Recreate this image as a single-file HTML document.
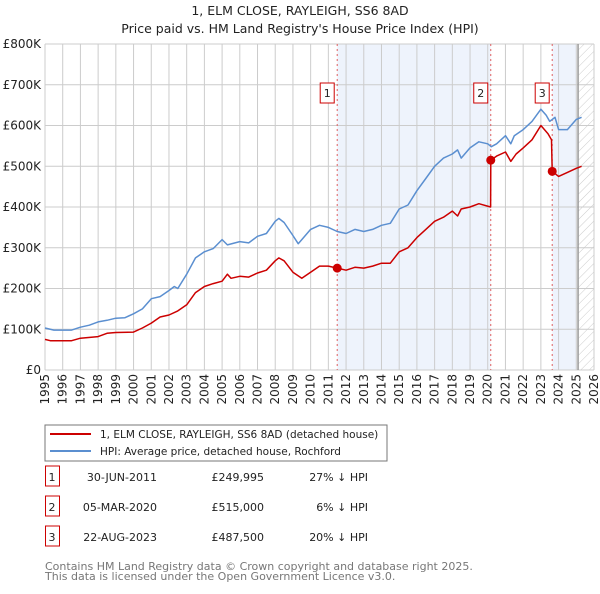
<!DOCTYPE html>
<html><head><meta charset="utf-8"><style>
body{margin:0;background:#fff;font-family:"DejaVu Sans","Liberation Sans",sans-serif;}
svg text{font-family:"DejaVu Sans","Liberation Sans",sans-serif;}
</style></head><body>
<svg id="chart" width="600" height="590" xmlns="http://www.w3.org/2000/svg">
<defs><pattern id="hatch" width="6" height="6" patternUnits="userSpaceOnUse" patternTransform="rotate(45)"><line x1="0" y1="0" x2="0" y2="6" stroke="#ccc" stroke-width="1"/></pattern></defs>
<text x="300" y="15" text-anchor="middle" font-size="12.5" fill="#222">1, ELM CLOSE, RAYLEIGH, SS6 8AD</text>
<text x="300" y="33" text-anchor="middle" font-size="12.5" fill="#222">Price paid vs. HM Land Registry's House Price Index (HPI)</text>
<g id="plot"></g>
<rect x="45" y="425" width="342" height="36" fill="#fff" stroke="#777"/>
<line x1="50" y1="434" x2="91" y2="434" stroke="#cc0000" stroke-width="2"/>
<text x="100" y="438" font-size="10.5" fill="#222">1, ELM CLOSE, RAYLEIGH, SS6 8AD (detached house)</text>
<line x1="50" y1="451" x2="91" y2="451" stroke="#5b8fd0" stroke-width="2"/>
<text x="100" y="455" font-size="10.5" fill="#222">HPI: Average price, detached house, Rochford</text>
<g id="table"></g>
<text x="45" y="570" font-size="11" fill="#777">Contains HM Land Registry data © Crown copyright and database right 2025.</text>
<text x="45" y="580" font-size="11" fill="#777">This data is licensed under the Open Government Licence v3.0.</text>
</svg>
<script>
const hpiYears=[1995,1995.5,1996,1996.5,1997,1997.5,1998,1998.5,1999,1999.5,2000,2000.5,2001,2001.5,2002,2002.3,2002.5,2003,2003.5,2004,2004.5,2005,2005.3,2006,2006.5,2007,2007.5,2008,2008.2,2008.5,2009,2009.3,2009.5,2010,2010.5,2011,2011.5,2012,2012.5,2013,2013.5,2014,2014.5,2015,2015.5,2016,2016.5,2017,2017.5,2018,2018.3,2018.5,2019,2019.5,2020,2020.2,2020.5,2021,2021.3,2021.5,2022,2022.5,2023,2023.3,2023.5,2023.8,2024,2024.5,2025,2025.3];
const hpiValues=[103,98,98,98,105,110,118,122,127,128,138,150,175,180,195,205,200,235,275,290,298,320,307,315,312,328,335,365,372,362,330,310,320,345,355,350,340,335,345,340,345,355,360,395,405,440,470,500,520,530,540,520,545,560,555,548,555,575,555,575,590,610,640,625,610,620,590,590,615,620];
const priceYears=[1995,1995.3,1996.5,1997,1998,1998.5,1999,2000,2000.5,2001,2001.5,2002,2002.5,2003,2003.5,2004,2004.5,2005,2005.3,2005.5,2006,2006.5,2007,2007.5,2008,2008.2,2008.5,2009,2009.5,2010,2010.5,2011,2011.5,2012,2012.5,2013,2013.5,2014,2014.5,2015,2015.5,2016,2016.5,2017,2017.5,2018,2018.3,2018.5,2019,2019.5,2020.16,2020.17,2020.5,2021,2021.3,2021.6,2022,2022.5,2023,2023.4,2023.6,2023.64,2024,2024.5,2025,2025.3];
const priceValues=[75,72,72,78,82,90,92,93,103,115,130,135,145,160,190,205,212,218,235,225,230,228,238,245,268,275,268,240,225,240,255,255,250,245,252,250,255,262,262,290,300,325,345,365,375,390,378,395,400,408,400,515,525,535,512,530,545,565,600,580,565,487.5,475,485,495,500];
const saleYears=[2011.5,2020.17,2023.64];
const saleValues=[249.995,515,487.5];
const saleLabels=["1","2","3"];
const saleDates=["30-JUN-2011","05-MAR-2020","22-AUG-2023"];
const salePrices=["£249,995","£515,000","£487,500"];
const saleDiffs=["27% ↓ HPI","6% ↓ HPI","20% ↓ HPI"];
const yTicks=[0,100,200,300,400,500,600,700,800];
const yTickLabels=["£0","£100K","£200K","£300K","£400K","£500K","£600K","£700K","£800K"];
const xTicks=[1995,1996,1997,1998,1999,2000,2001,2002,2003,2004,2005,2006,2007,2008,2009,2010,2011,2012,2013,2014,2015,2016,2017,2018,2019,2020,2021,2022,2023,2024,2025,2026];

const X0=45,X1=594,Y0=370,Y1=44;
const xs=y=>X0+(y-1995)/(2026-1995)*(X1-X0);
const ys=v=>Y0-v/800*(Y0-Y1);
const NS="http://www.w3.org/2000/svg";
const plot=document.getElementById('plot');
function mk(tag,attrs,parent){const e=document.createElementNS(NS,tag);for(const k in attrs)e.setAttribute(k,attrs[k]);(parent||plot).appendChild(e);return e;}

let r=mk('rect',{x:xs(saleYears[0]),y:Y1,width:xs(saleYears[1])-xs(saleYears[0]),height:Y0-Y1,fill:'#eef3fc'});


r=mk('rect',{x:xs(saleYears[2]),y:Y1,width:xs(2025)-xs(saleYears[2]),height:Y0-Y1,fill:'#eef3fc'});


r=mk('rect',{x:xs(2025.1),y:Y1,width:X1-xs(2025.1),height:Y0-Y1,fill:'url(#hatch)'});



yTicks.forEach((t,i)=>{
  const l=mk('line',{x1:X0,x2:X1,y1:ys(t),y2:ys(t),stroke:'#ccc'});
  
  
  const tx=mk('text',{x:41,y:ys(t)+4,'text-anchor':'end','font-size':'12',fill:'#222'});
  
  
  tx.textContent=yTickLabels[i];
});
xTicks.forEach(t=>{
  const l=mk('line',{x1:xs(t),x2:xs(t),y1:Y1,y2:Y0,stroke:'#ccc'});
  
  
  const tx=mk('text',{x:0,y:0,'text-anchor':'end','font-size':'12',fill:'#222',transform:`translate(${xs(t)+4},374) rotate(-90)`});
  
  
  tx.textContent=t;
});
let vl=mk('line',{x1:xs(2025.1),x2:xs(2025.1),y1:Y1,y2:Y0,stroke:'#999','stroke-width':1.5});



saleYears.forEach((y,i)=>{
  const l=mk('line',{x1:xs(y),x2:xs(y),y1:Y1,y2:Y0,stroke:'#e06060','stroke-dasharray':'2,3'});
  
  
});

function path(xv,vv,color,name){
  const d=xv.map((x,i)=>(i?'L':'M')+xs(x).toFixed(1)+','+ys(vv[i]).toFixed(1)).join('');
  const p=mk('path',{d:d,fill:'none',stroke:color,'stroke-width':1.5,'stroke-linejoin':'round'});
  
  
}
path(hpiYears,hpiValues,'#5b8fd0','hpi-line');
path(priceYears,priceValues,'#cc0000','price-line');

saleYears.forEach((y,i)=>{
  const c=mk('circle',{cx:xs(y),cy:ys(saleValues[i]),r:4.5,fill:'#cc0000'});
  
  
  const bx=mk('rect',{x:xs(y)-17,y:83,width:14,height:20,fill:'#fff',stroke:'#cc0000'});
  
  
  const t=mk('text',{x:xs(y)-10,y:97,'text-anchor':'middle','font-size':'11',fill:'#222'});
  
  
  t.textContent=saleLabels[i];
});

const tbl=document.getElementById('table');
saleLabels.forEach((s,i)=>{
  const y=483+i*30;
  const b=mk('rect',{x:45.5,y:y-17,width:14,height:20,fill:'#fff',stroke:'#cc0000'},tbl);
  
  
  const cells=[[52,s,'middle'],[157,saleDates[i],'end'],[264,salePrices[i],'end'],[368,saleDiffs[i],'end']];
  cells.forEach(c=>{
    const t=mk('text',{x:c[0],y:y-2,'text-anchor':c[2],'font-size':'11',fill:'#222'},tbl);
    
    
    t.textContent=c[1];
  });
});
</script>
</body></html>
